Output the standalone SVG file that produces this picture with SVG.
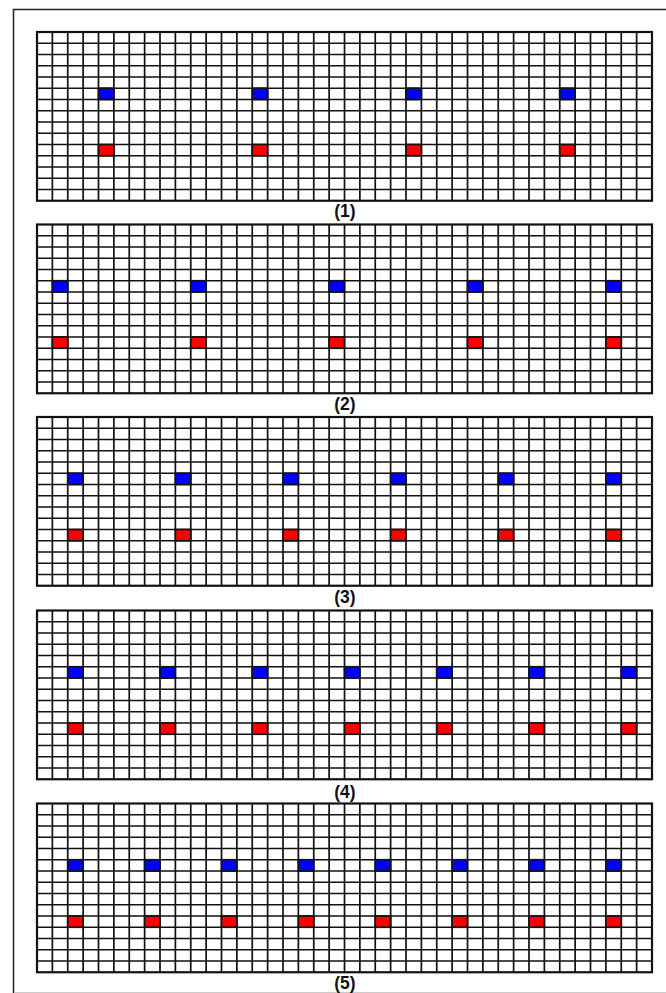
<svg xmlns="http://www.w3.org/2000/svg" xmlns:xlink="http://www.w3.org/1999/xlink" width="666" height="993" viewBox="0 0 666 993">
<style>
.grid{fill:none;stroke:#111;stroke-width:1.7}
.edge{fill:none;stroke:#111;stroke-width:2.2}
.b{fill:#0000ff;stroke:#111;stroke-width:1.7}
.r{fill:#ff0000;stroke:#111;stroke-width:1.7}
.lbl{font-family:"Liberation Sans",Arial,sans-serif;font-weight:bold;font-size:17.5px;fill:#111;text-anchor:middle}
.frame{fill:none;stroke:#222;stroke-width:1.5}
.frameb{fill:none;stroke:#ccc;stroke-width:1}
</style>
<defs>
<g id="grid">
<path class="grid" d="M15.375 0V168.75M30.75 0V168.75M46.125 0V168.75M61.5 0V168.75M76.875 0V168.75M92.25 0V168.75M107.625 0V168.75M123 0V168.75M138.375 0V168.75M153.75 0V168.75M169.125 0V168.75M184.5 0V168.75M199.875 0V168.75M215.25 0V168.75M230.625 0V168.75M246 0V168.75M261.375 0V168.75M276.75 0V168.75M292.125 0V168.75M307.5 0V168.75M322.875 0V168.75M338.25 0V168.75M353.625 0V168.75M369 0V168.75M384.375 0V168.75M399.75 0V168.75M415.125 0V168.75M430.5 0V168.75M445.875 0V168.75M461.25 0V168.75M476.625 0V168.75M492 0V168.75M507.375 0V168.75M522.75 0V168.75M538.125 0V168.75M553.5 0V168.75M568.875 0V168.75M584.25 0V168.75M599.625 0V168.75M0 11.25H615M0 22.5H615M0 33.75H615M0 45H615M0 56.25H615M0 67.5H615M0 78.75H615M0 90H615M0 101.25H615M0 112.5H615M0 123.75H615M0 135H615M0 146.25H615M0 157.5H615"/>
<rect class="edge" x="0" y="0" width="615" height="168.75"/>
</g>
</defs>
<path class="frame" d="M667 9.5H13.5V993"/>
<path class="frameb" d="M14 992.5H667"/>
<g id="panel1" transform="translate(37,32)">
<use xlink:href="#grid"/>
<rect class="b" x="61.5" y="56.25" width="15.375" height="11.25"/>
<rect class="b" x="215.25" y="56.25" width="15.375" height="11.25"/>
<rect class="b" x="369" y="56.25" width="15.375" height="11.25"/>
<rect class="b" x="522.75" y="56.25" width="15.375" height="11.25"/>
<rect class="r" x="61.5" y="112.5" width="15.375" height="11.25"/>
<rect class="r" x="215.25" y="112.5" width="15.375" height="11.25"/>
<rect class="r" x="369" y="112.5" width="15.375" height="11.25"/>
<rect class="r" x="522.75" y="112.5" width="15.375" height="11.25"/>
<text class="lbl" x="308" y="185">(1)</text>
</g>
<g id="panel2" transform="translate(37,224.5)">
<use xlink:href="#grid"/>
<rect class="b" x="15.375" y="56.25" width="15.375" height="11.25"/>
<rect class="b" x="153.75" y="56.25" width="15.375" height="11.25"/>
<rect class="b" x="292.125" y="56.25" width="15.375" height="11.25"/>
<rect class="b" x="430.5" y="56.25" width="15.375" height="11.25"/>
<rect class="b" x="568.875" y="56.25" width="15.375" height="11.25"/>
<rect class="r" x="15.375" y="112.5" width="15.375" height="11.25"/>
<rect class="r" x="153.75" y="112.5" width="15.375" height="11.25"/>
<rect class="r" x="292.125" y="112.5" width="15.375" height="11.25"/>
<rect class="r" x="430.5" y="112.5" width="15.375" height="11.25"/>
<rect class="r" x="568.875" y="112.5" width="15.375" height="11.25"/>
<text class="lbl" x="308" y="185.5">(2)</text>
</g>
<g id="panel3" transform="translate(37,417)">
<use xlink:href="#grid"/>
<rect class="b" x="30.75" y="56.25" width="15.375" height="11.25"/>
<rect class="b" x="138.375" y="56.25" width="15.375" height="11.25"/>
<rect class="b" x="246" y="56.25" width="15.375" height="11.25"/>
<rect class="b" x="353.625" y="56.25" width="15.375" height="11.25"/>
<rect class="b" x="461.25" y="56.25" width="15.375" height="11.25"/>
<rect class="b" x="568.875" y="56.25" width="15.375" height="11.25"/>
<rect class="r" x="30.75" y="112.5" width="15.375" height="11.25"/>
<rect class="r" x="138.375" y="112.5" width="15.375" height="11.25"/>
<rect class="r" x="246" y="112.5" width="15.375" height="11.25"/>
<rect class="r" x="353.625" y="112.5" width="15.375" height="11.25"/>
<rect class="r" x="461.25" y="112.5" width="15.375" height="11.25"/>
<rect class="r" x="568.875" y="112.5" width="15.375" height="11.25"/>
<text class="lbl" x="308" y="186">(3)</text>
</g>
<g id="panel4" transform="translate(37,610.5)">
<use xlink:href="#grid"/>
<rect class="b" x="30.75" y="56.25" width="15.375" height="11.25"/>
<rect class="b" x="123" y="56.25" width="15.375" height="11.25"/>
<rect class="b" x="215.25" y="56.25" width="15.375" height="11.25"/>
<rect class="b" x="307.5" y="56.25" width="15.375" height="11.25"/>
<rect class="b" x="399.75" y="56.25" width="15.375" height="11.25"/>
<rect class="b" x="492" y="56.25" width="15.375" height="11.25"/>
<rect class="b" x="584.25" y="56.25" width="15.375" height="11.25"/>
<rect class="r" x="30.75" y="112.5" width="15.375" height="11.25"/>
<rect class="r" x="123" y="112.5" width="15.375" height="11.25"/>
<rect class="r" x="215.25" y="112.5" width="15.375" height="11.25"/>
<rect class="r" x="307.5" y="112.5" width="15.375" height="11.25"/>
<rect class="r" x="399.75" y="112.5" width="15.375" height="11.25"/>
<rect class="r" x="492" y="112.5" width="15.375" height="11.25"/>
<rect class="r" x="584.25" y="112.5" width="15.375" height="11.25"/>
<text class="lbl" x="308" y="187">(4)</text>
</g>
<g id="panel5" transform="translate(37,803.5)">
<use xlink:href="#grid"/>
<rect class="b" x="30.75" y="56.25" width="15.375" height="11.25"/>
<rect class="b" x="107.625" y="56.25" width="15.375" height="11.25"/>
<rect class="b" x="184.5" y="56.25" width="15.375" height="11.25"/>
<rect class="b" x="261.375" y="56.25" width="15.375" height="11.25"/>
<rect class="b" x="338.25" y="56.25" width="15.375" height="11.25"/>
<rect class="b" x="415.125" y="56.25" width="15.375" height="11.25"/>
<rect class="b" x="492" y="56.25" width="15.375" height="11.25"/>
<rect class="b" x="568.875" y="56.25" width="15.375" height="11.25"/>
<rect class="r" x="30.75" y="112.5" width="15.375" height="11.25"/>
<rect class="r" x="107.625" y="112.5" width="15.375" height="11.25"/>
<rect class="r" x="184.5" y="112.5" width="15.375" height="11.25"/>
<rect class="r" x="261.375" y="112.5" width="15.375" height="11.25"/>
<rect class="r" x="338.25" y="112.5" width="15.375" height="11.25"/>
<rect class="r" x="415.125" y="112.5" width="15.375" height="11.25"/>
<rect class="r" x="492" y="112.5" width="15.375" height="11.25"/>
<rect class="r" x="568.875" y="112.5" width="15.375" height="11.25"/>
<text class="lbl" x="308" y="185">(5)</text>
</g>
</svg>
